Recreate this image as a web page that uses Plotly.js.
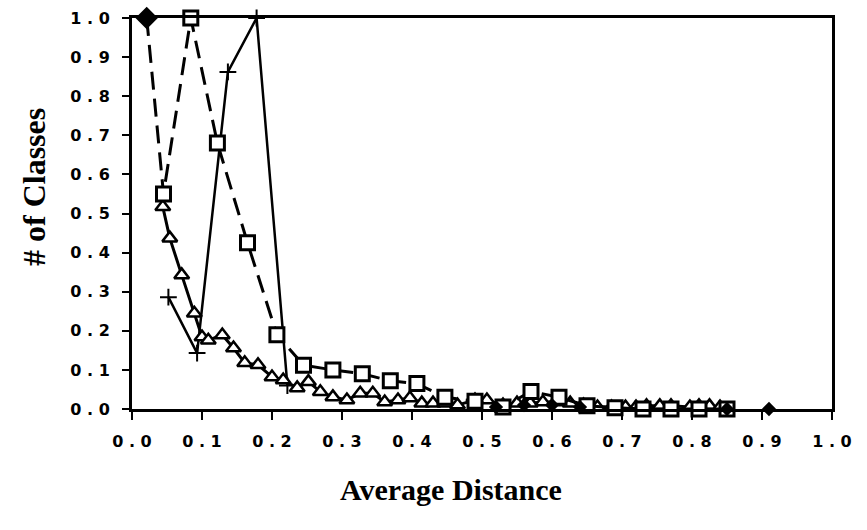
<!DOCTYPE html>
<html>
<head>
<meta charset="utf-8">
<script src="https://cdn.plot.ly/plotly-3.0.1.min.js"></script>
<style>html,body{margin:0;padding:0;background:#fff;}#chart{width:867px;height:530px;}</style>
</head>
<body>
<div id="chart"></div>
<script>
// ---- data ----
const xTickVals = [0, 0.1, 0.2, 0.3, 0.4, 0.5, 0.6, 0.7, 0.8, 0.9, 1.0];
const xTickText = ["0 . 0","0 . 1","0 . 2","0 . 3","0 . 4","0 . 5","0 . 6","0 . 7","0 . 8","0 . 9","1 . 0"];
const yTickVals = [0, 0.1, 0.2, 0.3, 0.4, 0.5, 0.6, 0.7, 0.8, 0.9, 1.0];
const yTickText = ["0 . 0","0 . 1","0 . 2","0 . 3","0 . 4","0 . 5","0 . 6","0 . 7","0 . 8","0 . 9","1 . 0"];

// square series (dashed)
const sqX = [0.021, 0.045, 0.084, 0.122, 0.165, 0.207, 0.245, 0.287, 0.329, 0.369, 0.407, 0.447, 0.49, 0.53, 0.57, 0.61, 0.65, 0.69, 0.73, 0.77, 0.81, 0.85];
const sqY = [1.0, 0.55, 1.0, 0.68, 0.425, 0.19, 0.112, 0.10, 0.09, 0.072, 0.065, 0.03, 0.02, 0.005, 0.045, 0.03, 0.008, 0.003, 0.0, 0.0, 0.0, 0.0];

// triangle series (solid)
const triX = [0.044, 0.054, 0.071, 0.089, 0.100, 0.109, 0.129, 0.145, 0.161, 0.180, 0.200, 0.216, 0.236, 0.252, 0.269, 0.287, 0.307, 0.326, 0.344, 0.361, 0.380, 0.397, 0.414, 0.430, 0.447, 0.465, 0.490, 0.507, 0.530, 0.550, 0.569, 0.587, 0.607, 0.626, 0.645, 0.665, 0.685, 0.705, 0.720, 0.735, 0.754, 0.770, 0.797, 0.810, 0.825, 0.840];
const triY = [0.517, 0.437, 0.343, 0.245, 0.184, 0.176, 0.189, 0.156, 0.118, 0.113, 0.082, 0.074, 0.054, 0.070, 0.044, 0.031, 0.023, 0.040, 0.040, 0.018, 0.023, 0.028, 0.015, 0.015, 0.015, 0.010, 0.023, 0.023, 0.010, 0.015, 0.015, 0.018, 0.018, 0.015, 0.010, 0.005, 0.005, 0.005, 0.005, 0.008, 0.008, 0.008, 0.005, 0.008, 0.008, 0.005];

// plus series (solid)
const plX = [0.052, 0.093, 0.137, 0.178, 0.222];
const plY = [0.286, 0.143, 0.862, 1.0, 0.06];

// filled diamond series (points only)
const dmX = [0.52, 0.56, 0.60, 0.64, 0.85, 0.91];
const dmY = [0.005, 0.01, 0.01, 0.005, 0.0, 0.0];

// ---- styles ----
const sqSymbols = sqX.map((_, i) => i === 0 ? 'diamond' : 'square');
const sqFill = sqX.map((_, i) => i === 0 ? '#000' : '#fff');

const traces = [
  {x: plX, y: plY, mode: 'lines+markers', name: 'plus', cliponaxis: false,
   line: {color: '#000', width: 2.5}, marker: {symbol: 'cross-thin', size: 12, line: {color: '#000', width: 2}}},
  {x: triX, y: triY, mode: 'lines+markers', name: 'triangle', cliponaxis: false,
   line: {color: '#000', width: 3}, marker: {symbol: 'triangle-up', size: 13, color: '#fff', line: {color: '#000', width: 2.5}}},
  {x: sqX, y: sqY, mode: 'lines+markers', name: 'square', cliponaxis: false,
   line: {color: '#000', width: 3, dash: '18px,9px'}, marker: {symbol: sqSymbols, size: 14, color: sqFill, line: {color: '#000', width: 3}}},
  {x: dmX, y: dmY, mode: 'markers', name: 'diamond', cliponaxis: false,
   marker: {symbol: 'diamond', size: 11, color: '#000'}}
];

const tickFont = {family: 'DejaVu Sans, sans-serif', size: 16, color: '#000', weight: 'bold'};
const layout = {
  width: 867, height: 530,
  margin: {l: 132, r: 35, t: 18, b: 121},
  paper_bgcolor: '#fff', plot_bgcolor: '#fff',
  showlegend: false,
  xaxis: {
    range: [0, 1.0], tickvals: xTickVals, ticktext: xTickText,
    ticks: 'outside', ticklen: 8, tickwidth: 2, tickcolor: '#000',
    showline: true, linewidth: 3, linecolor: '#000', mirror: true,
    showgrid: false, zeroline: false, tickfont: tickFont, ticklabelstandoff: 8,
    title: {text: ''}
  },
  yaxis: {
    range: [0, 1.0], tickvals: yTickVals, ticktext: yTickText,
    ticks: 'outside', ticklen: 7, tickwidth: 2, tickcolor: '#000',
    showline: true, linewidth: 3, linecolor: '#000', mirror: true,
    showgrid: false, zeroline: false, tickfont: tickFont, ticklabelstandoff: 9,
    title: {text: ''}
  },
  annotations: [
    {text: 'Average Distance', xref: 'paper', yref: 'paper', x: (451-132)/700, y: -(490-409)/391,
     showarrow: false, xanchor: 'center', yanchor: 'middle',
     font: {family: 'Liberation Serif, Times New Roman, serif', size: 30, color: '#000', weight: 'bold'}},
    {text: '# of Classes', xref: 'paper', yref: 'paper', x: -(132-34)/700, y: (409-187)/391,
     showarrow: false, xanchor: 'center', yanchor: 'middle', textangle: -90,
     font: {family: 'Liberation Serif, Times New Roman, serif', size: 32, color: '#000', weight: 'bold'}}
  ]
};

Plotly.newPlot('chart', traces, layout, {displayModeBar: false, staticPlot: true});
</script>
</body>
</html>
